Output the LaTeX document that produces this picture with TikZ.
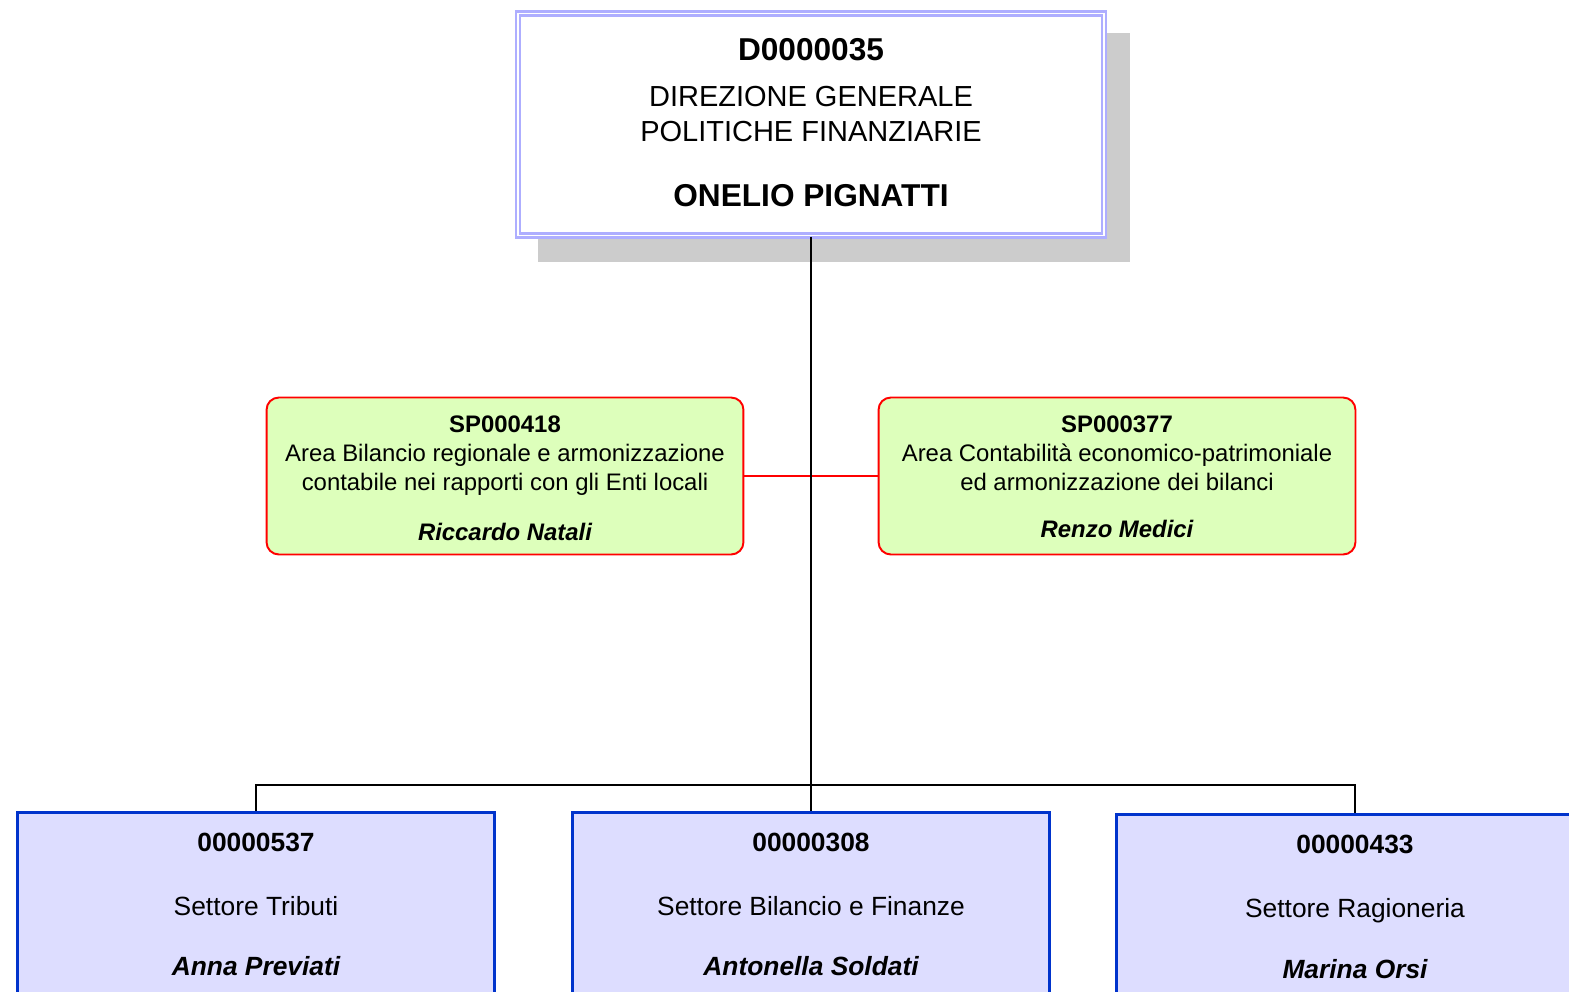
\documentclass[tikz,border=0pt]{standalone}
\usepackage{fontspec}
\setmainfont{Liberation Sans}
\usetikzlibrary{calc}
\definecolor{shadowgray}{HTML}{CCCCCC}
\definecolor{direzioneedge}{HTML}{AEAEFF}
\definecolor{areafill}{HTML}{DDFFBB}
\definecolor{settorefill}{HTML}{DDDDFF}
\definecolor{settoreedge}{HTML}{0033CC}
\def\sizebig{\fontsize{18pt}{21pt}\selectfont}
\def\sizetop{\fontsize{16.5pt}{19pt}\selectfont}
\def\sizearea{\fontsize{13.6pt}{16pt}\selectfont}
\def\sizesettore{\fontsize{15pt}{18pt}\selectfont}
\tikzset{
	direzione/.style={draw=direzioneedge, line width=1.4pt, double=white, double distance=1pt, fill=white, minimum width=11.72cm, minimum height=4.44cm, inner sep=0pt},
	area/.style={draw=red, line width=1.1pt, fill=areafill, rounded corners=7pt, minimum width=9.54cm, minimum height=3.14cm, inner sep=0pt},
	settore/.style={draw=settoreedge, line width=1.7pt, fill=settorefill, minimum width=9.54cm, minimum height=4.56cm, inner sep=0pt},
	orgline/.style={line width=1.1pt, color=black},
	arealine/.style={line width=1.1pt, color=red},
	label/.style={anchor=base, inner sep=0pt, align=center}
}

\begin{document}
\begin{tikzpicture}[x=0.02cm, y=-0.02cm]
			%%%%% START %%%%%
			\useasboundingbox (0, 0) rectangle (1569, 991);
			
			\fill[shadowgray] (538, 33) rectangle (1130, 262);
			\node[direzione] (dir) at (811, 124.5) {};
			
			\node[area] (sp418) at (505, 476) {};
			\node[area] (sp377) at (1117, 476) {};
			
			\node[settore] (set537) at (256, 926) {};
			\node[settore] (set308) at (811, 926) {};
			\node[settore] (set433) at (1355, 928) {};
			
			\coordinate (split) at (811, 785);
			\draw[arealine] (sp418.east) -- (sp377.west);
			\draw[orgline] (dir.south) -- (set308.north);
			\draw[orgline] (set537.north) -- (set537.north |- split) -- (set433.north |- split) -- (set433.north);
			
			\node[label] (dircode) at (811, 60) {\sizebig\bfseries D0000035};
			\node[label] (dirname1) at (811, 106) {\sizetop DIREZIONE GENERALE};
			\node[label] (dirname2) at (811, 141) {\sizetop POLITICHE FINANZIARIE};
			\node[label] (dirhead) at (811, 206) {\sizebig\bfseries ONELIO PIGNATTI};
			
			\node[label] (code418) at (505, 432) {\sizearea\bfseries SP000418};
			\node[label] (name418a) at (505, 461) {\sizearea Area Bilancio regionale e armonizzazione};
			\node[label] (name418b) at (505, 490) {\sizearea contabile nei rapporti con gli Enti locali};
			\node[label] (head418) at (505, 540) {\sizearea\bfseries\itshape Riccardo Natali};
			
			\node[label] (code377) at (1117, 432) {\sizearea\bfseries SP000377};
			\node[label] (name377a) at (1117, 461) {\sizearea Area Contabilità economico-patrimoniale};
			\node[label] (name377b) at (1117, 490) {\sizearea ed armonizzazione dei bilanci};
			\node[label] (head377) at (1117, 537) {\sizearea\bfseries\itshape Renzo Medici};
			
			\node[label] (code537) at (256, 851) {\sizesettore\bfseries 00000537};
			\node[label] (name537) at (256, 915) {\sizesettore Settore Tributi};
			\node[label] (head537) at (256, 975) {\sizesettore\bfseries\itshape Anna Previati};
			
			\node[label] (code308) at (811, 851) {\sizesettore\bfseries 00000308};
			\node[label] (name308) at (811, 915) {\sizesettore Settore Bilancio e Finanze};
			\node[label] (head308) at (811, 975) {\sizesettore\bfseries\itshape Antonella Soldati};
			
			\node[label] (code433) at (1355, 853) {\sizesettore\bfseries 00000433};
			\node[label] (name433) at (1355, 917) {\sizesettore Settore Ragioneria};
			\node[label] (head433) at (1355, 978) {\sizesettore\bfseries\itshape Marina Orsi};
			%%%%% END %%%%%
\end{tikzpicture}
\end{document}
